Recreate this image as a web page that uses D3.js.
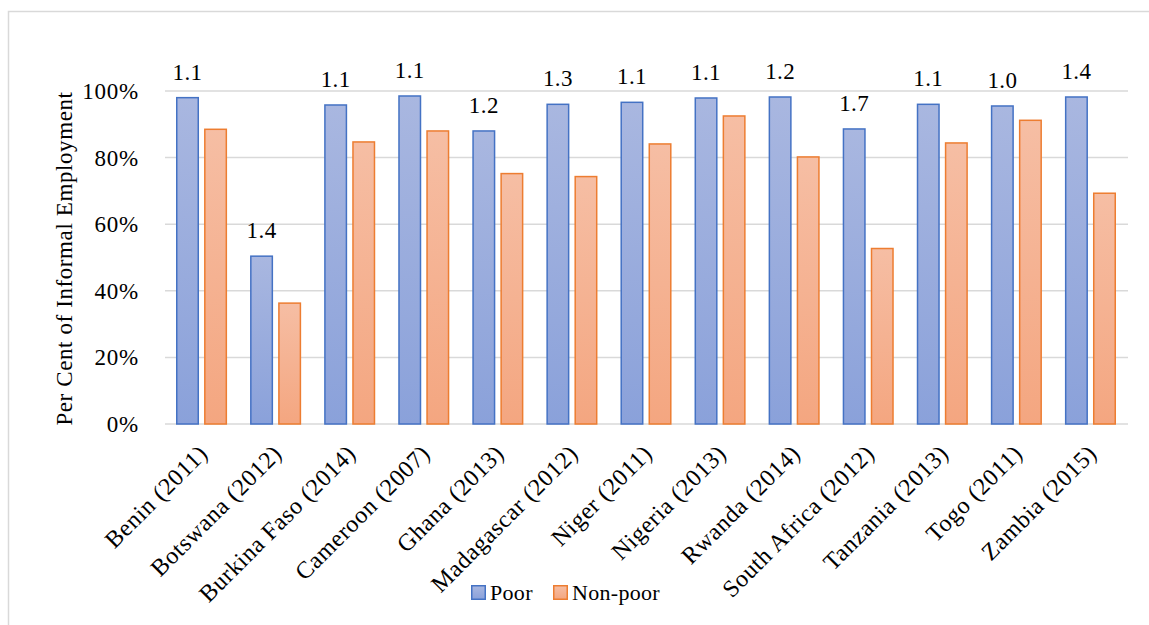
<!DOCTYPE html>
<html><head><meta charset="utf-8">
<script src="https://cdn.jsdelivr.net/npm/d3@7"></script>
<style>
html,body{margin:0;padding:0;background:#fff;}
svg text{font-family:"Liberation Serif","Times New Roman",serif;fill:#000;}
</style></head>
<body><svg id="c" width="1149" height="625"></svg>
<script>
const categories = ["Benin (2011)","Botswana (2012)","Burkina Faso (2014)","Cameroon (2007)","Ghana (2013)","Madagascar (2012)","Niger (2011)","Nigeria (2013)","Rwanda (2014)","South Africa (2012)","Tanzania (2013)","Togo (2011)","Zambia (2015)"];
const poor = [98.0, 50.4, 95.8, 98.5, 88.0, 96.0, 96.6, 97.9, 98.2, 88.6, 96.0, 95.5, 98.2];
const nonPoor = [88.5, 36.3, 84.7, 88.0, 75.2, 74.3, 84.1, 92.5, 80.2, 52.7, 84.4, 91.2, 69.3];
const ratios = ["1.1","1.4","1.1","1.1","1.2","1.3","1.1","1.1","1.2","1.7","1.1","1.0","1.4"];
const yTicks = [0,20,40,60,80,100];
const seriesNames = ["Poor","Non-poor"];

const svg = d3.select("#c");
const W = 1149, H = 625;
const m = {left:165, right:1128, top:91, bottom:424};
const FF = "Liberation Serif";

svg.append("path").attr("d", `M8.5,${H} V11.5 H${W}`).attr("fill","none").attr("stroke","#d9d9d9").attr("stroke-width",1.5);

const defs = svg.append("defs");
const g1 = defs.append("linearGradient").attr("id","gPoor").attr("x1",0).attr("y1",0).attr("x2",0).attr("y2",1);
g1.append("stop").attr("offset","0%").attr("stop-color","#a9b7e0");
g1.append("stop").attr("offset","100%").attr("stop-color","#8aa1da");
const g2 = defs.append("linearGradient").attr("id","gNon").attr("x1",0).attr("y1",0).attr("x2",0).attr("y2",1);
g2.append("stop").attr("offset","0%").attr("stop-color","#f6bea4");
g2.append("stop").attr("offset","100%").attr("stop-color","#f4a680");

const x = d3.scaleBand().domain(categories).range([m.left, m.right]).paddingInner(0).paddingOuter(0);
const xs = d3.scaleBand().domain(seriesNames).range([11, x.bandwidth()-12]).paddingInner(0.18).paddingOuter(0);
const y = d3.scaleLinear().domain([0,100]).range([m.bottom, m.top]);

svg.append("g").selectAll("line").data(yTicks).join("line")
  .attr("x1", m.left).attr("x2", m.right)
  .attr("y1", d=>y(d)).attr("y2", d=>y(d))
  .attr("stroke","#d9d9d9").attr("stroke-width",1.5);

const yAxis = d3.axisLeft(y).tickValues(yTicks).tickFormat(d=>d+"%").tickSize(0).tickPadding(26);
const ya = svg.append("g").attr("transform",`translate(${m.left},0)`).call(yAxis);
ya.attr("font-family",FF).attr("font-size",23);
ya.select(".domain").remove();
ya.selectAll("text").attr("fill","#000").attr("dy","0.33em").style("letter-spacing","0.8px");

svg.append("text").attr("transform",`translate(72,${(m.top+m.bottom)/2+1}) rotate(-90)`)
  .attr("text-anchor","middle").attr("font-size",23).style("letter-spacing","0.6px")
  .text("Per Cent of Informal Employment");

const data = categories.map((c,i)=>({c, vals:[{s:"Poor",v:poor[i]},{s:"Non-poor",v:nonPoor[i]}]}));
const groups = svg.append("g").selectAll("g").data(data).join("g").attr("transform",d=>`translate(${x(d.c)},0)`);
groups.selectAll("rect").data(d=>d.vals).join("rect")
  .attr("x", d=>xs(d.s)+0.75).attr("width", xs.bandwidth()-1.5)
  .attr("y", d=>y(d.v)).attr("height", d=>y(0)-y(d.v))
  .attr("fill", d=>d.s==="Poor"?"url(#gPoor)":"url(#gNon)")
  .attr("stroke", d=>d.s==="Poor"?"#4472c4":"#ed7d31").attr("stroke-width",1.5);

svg.append("g").selectAll("text").data(categories).join("text")
  .attr("x",(d,i)=>x(d)+xs("Poor")+xs.bandwidth()/2)
  .attr("y",(d,i)=>y(poor[i])-18)
  .attr("text-anchor","middle").attr("font-size",23).style("letter-spacing","0.4px")
  .text((d,i)=>ratios[i]);

const xa = svg.append("g").attr("transform",`translate(0,${m.bottom})`).call(d3.axisBottom(x).tickSize(0).tickPadding(0));
xa.attr("font-family",FF).attr("font-size",24);
xa.select(".domain").remove();
xa.selectAll("text").attr("fill","#000")
  .attr("text-anchor","end").attr("dy",0).style("letter-spacing","0.6px")
  .attr("transform","translate(7,31) rotate(-45)");

const leg = svg.append("g");
const lx = [471, 553];
seriesNames.forEach((s,i)=>{
  leg.append("rect").attr("x",lx[i]+0.75).attr("y",585.75).attr("width",13.5).attr("height",13.5)
    .attr("fill", i===0?"url(#gPoor)":"url(#gNon)").attr("stroke", i===0?"#4472c4":"#ed7d31").attr("stroke-width",1.5);
  leg.append("text").attr("x",lx[i]+19).attr("y",600).attr("font-size",22).style("letter-spacing","0.3px").text(s);
});
</script></body></html>
